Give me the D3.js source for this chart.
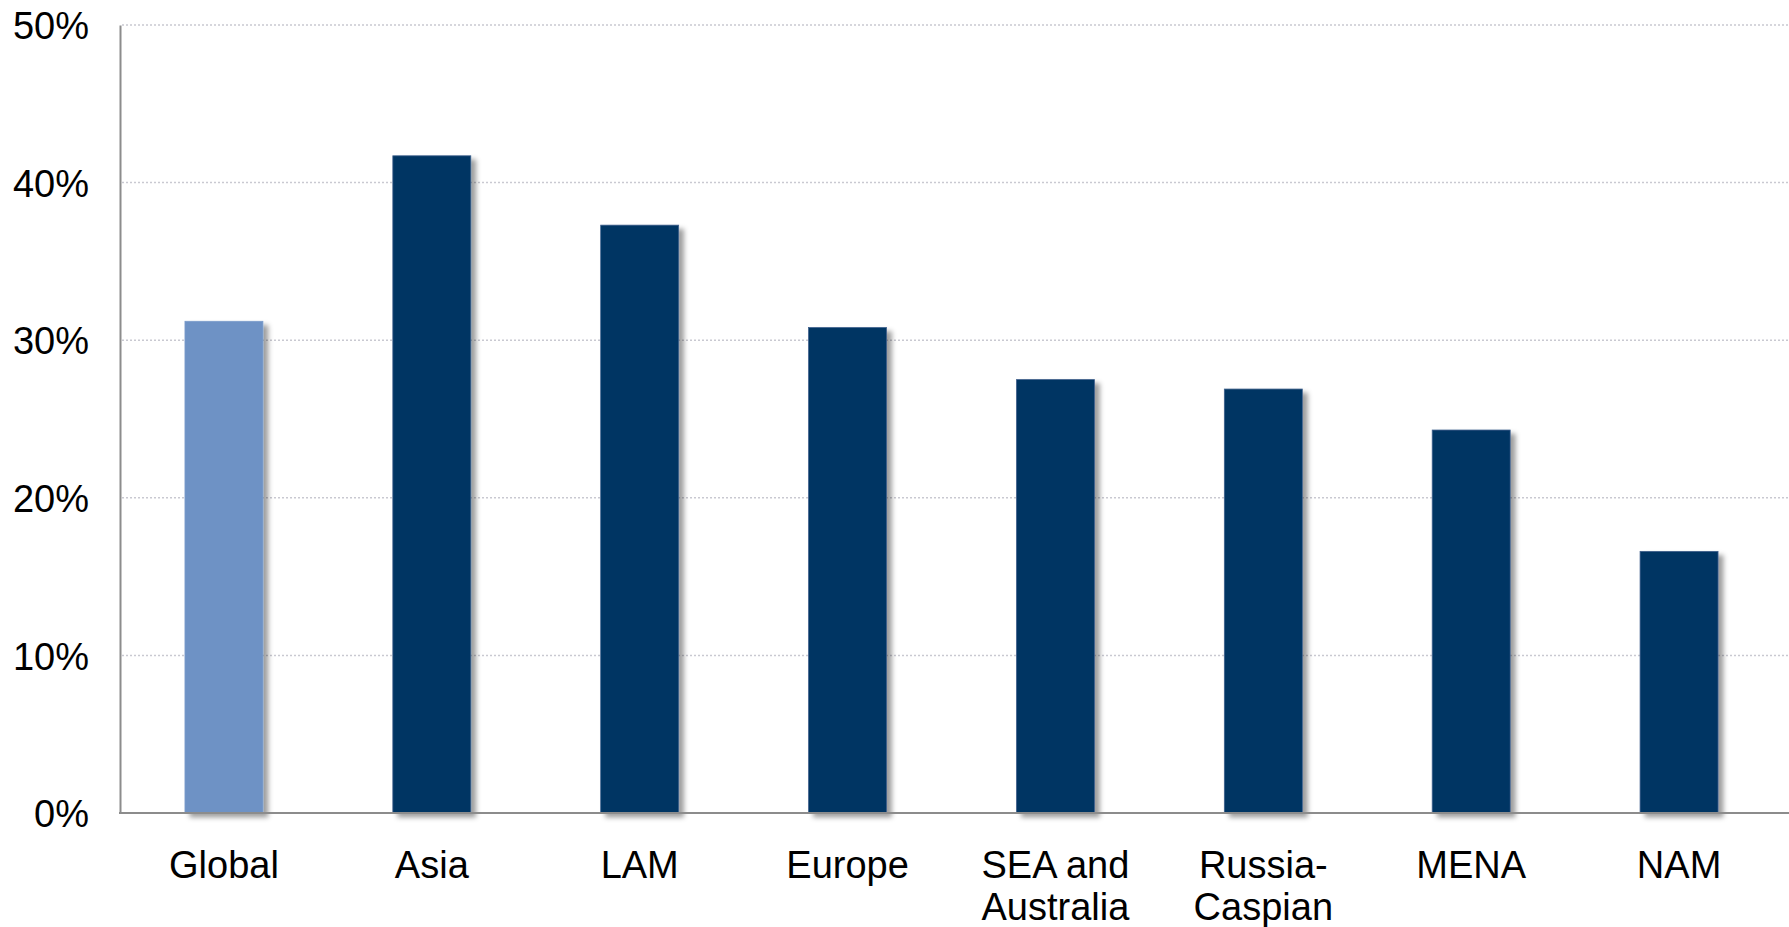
<!DOCTYPE html>
<html>
<head>
<meta charset="utf-8">
<script src="https://cdn.jsdelivr.net/npm/d3@7"></script>
<style>
  html, body { margin: 0; padding: 0; background: #ffffff; }
  svg { display: block; font-family: "Liberation Sans", Arial, sans-serif; }
</style>
</head>
<body>
<svg id="chart" width="1789" height="927"></svg>
<script>
// Regions and their share (%)
const categories = ["Global", "Asia", "LAM", "Europe", "SEA and\nAustralia", "Russia-\nCaspian", "MENA", "NAM"];
const values = [31.2, 41.7, 37.3, 30.8, 27.5, 26.9, 24.3, 16.6];
const highlighted = ["Global"];
const yTicks = [0, 10, 20, 30, 40, 50];

(function () {
  const svg = d3.select("#chart");
  const W = 1789;
  const plotLeft = 120, plotRight = 1783, plotTop = 25, plotBottom = 813;
  const fontSize = 38;

  const x = d3.scaleBand()
    .domain(categories)
    .range([plotLeft, plotRight])
    .paddingInner(0.625)
    .paddingOuter(0.3125);

  const y = d3.scaleLinear().domain([0, 50]).range([plotBottom, plotTop]);

  // soft drop shadow behind bars
  const defs = svg.append("defs");
  const f = defs.append("filter").attr("id", "shadow")
    .attr("x", "-20%").attr("y", "-10%").attr("width", "150%").attr("height", "130%");
  f.append("feDropShadow")
    .attr("dx", 5).attr("dy", 4).attr("stdDeviation", 2.5)
    .attr("flood-color", "#000").attr("flood-opacity", 0.38);

  // dotted gridlines
  svg.append("g")
    .selectAll("line")
    .data(yTicks.filter(d => d > 0))
    .join("line")
    .attr("x1", plotLeft + 2).attr("x2", W)
    .attr("y1", d => y(d)).attr("y2", d => y(d))
    .attr("stroke", "#c9c9d1")
    .attr("stroke-width", 1.5)
    .attr("stroke-dasharray", "2,2");

  // bars
  svg.append("g")
    .selectAll("rect")
    .data(categories.map((c, i) => ({ c, v: values[i] })))
    .join("rect")
    .attr("x", d => x(d.c))
    .attr("y", d => y(d.v))
    .attr("width", x.bandwidth())
    .attr("height", d => y(0) - y(d.v))
    .attr("fill", d => highlighted.includes(d.c) ? "#6e92c5" : "#003463")
    .attr("stroke", d => highlighted.includes(d.c) ? "#7a9bcb" : "#3d5f8c")
    .attr("stroke-width", 0.8)
    .attr("filter", "url(#shadow)");

  // y axis
  const yAxis = d3.axisLeft(y)
    .tickValues(yTicks)
    .tickSize(0)
    .tickPadding(31)
    .tickFormat(d => d + "%");
  const gy = svg.append("g").attr("transform", `translate(${plotLeft},0)`).call(yAxis);
  gy.select(".domain").attr("stroke", "#8c8c8c").attr("stroke-width", 2);
  gy.selectAll(".tick text")
    .attr("font-size", fontSize)
    .attr("fill", "#000")
    .attr("font-family", "Liberation Sans, Arial, sans-serif")
    .attr("dy", "0.36em");

  // baseline
  svg.append("line")
    .attr("x1", plotLeft - 1).attr("x2", W)
    .attr("y1", y(0)).attr("y2", y(0))
    .attr("stroke", "#8c8c8c").attr("stroke-width", 2);

  // category labels (multi-line)
  const xAxis = d3.axisBottom(x).tickSize(0).tickFormat("");
  const gx = svg.append("g").attr("transform", `translate(0,${plotBottom})`).call(xAxis);
  gx.select(".domain").remove();
  gx.selectAll(".tick").each(function (d) {
    const t = d3.select(this).append("text")
      .attr("fill", "#000")
      .attr("font-size", fontSize)
      .attr("font-family", "Liberation Sans, Arial, sans-serif")
      .attr("text-anchor", "middle");
    d.split("\n").forEach((line, i) => {
      t.append("tspan").attr("x", 0).attr("y", 65 + i * 42).text(line);
    });
  });
})();
</script>
</body>
</html>
